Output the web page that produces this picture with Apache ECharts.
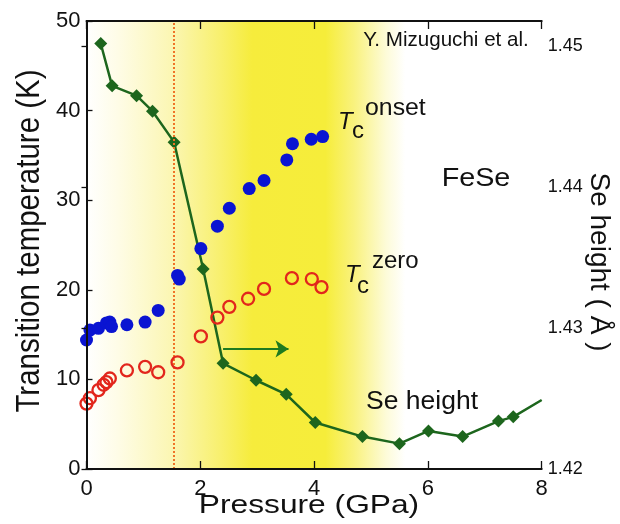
<!DOCTYPE html>
<html>
<head>
<meta charset="utf-8">
<title>FeSe under pressure</title>
<script src="https://cdn.jsdelivr.net/npm/echarts@6/dist/echarts.min.js"></script>
<style>
  html, body { margin: 0; padding: 0; background: #ffffff; }
  #chart { width: 620px; height: 524px; }
</style>
</head>
<body>
<div id="chart"></div>
<script>
// Pressure (GPa) tick labels
const pressureTicks = [0, 2, 4, 6, 8];

// Tc onset (K) vs pressure (GPa)
const onsetPressure = [0.00, 0.06, 0.21, 0.35, 0.41, 0.44, 0.71, 1.03, 1.26, 1.60, 1.63, 2.01, 2.30, 2.51, 2.86, 3.12, 3.52, 3.62, 3.95, 4.15];
const onsetTc       = [14.4, 15.5, 15.7, 16.3, 16.4, 15.9, 16.1, 16.4, 17.7, 21.6, 21.2, 24.6, 27.1, 29.1, 31.3, 32.2, 34.5, 36.3, 36.8, 37.1];

// Tc zero (K) vs pressure (GPa)
const zeroPressure = [0.00, 0.06, 0.21, 0.30, 0.35, 0.41, 0.71, 1.03, 1.26, 1.60, 2.01, 2.30, 2.51, 2.84, 3.12, 3.61, 3.96, 4.13];
const zeroTc       = [7.3, 7.9, 8.8, 9.4, 9.7, 10.1, 11.0, 11.4, 10.8, 11.9, 14.8, 16.9, 18.1, 19.0, 20.1, 21.3, 21.2, 20.3];

// Se height (Å) vs pressure (GPa); the last entry only continues the line to the frame
const sePressure = [0.25, 0.45, 0.88, 1.16, 1.54, 2.05, 2.40, 2.98, 3.51, 4.02, 4.85, 5.50, 6.01, 6.61, 7.24, 7.50, 8.00];
const seHeight   = [1.4502, 1.4472, 1.4465, 1.4454, 1.4432, 1.4342, 1.4275, 1.4263, 1.4253, 1.4233, 1.4223, 1.4218, 1.4227, 1.4223, 1.4234, 1.4237, 1.4249];
const seLineOnly = [false, false, false, false, false, false, false, false, false, false, false, false, false, false, false, false, true];

// Marked pressure where the Tc rise sets in, and the arrow pointing to the Se height axis
const markPressure = 1.54;
const arrowFrom = [2.40, 13.4];
const arrowTo   = [3.55, 13.4];

// Shaded pressure band
const bandRange = [0, 5.6];

const FONT = 'Liberation Sans';
const INK = '#111111';
const GREEN = '#1d661d';
const BLUE = '#0a14d2';
const RED = '#e2261c';

const pairs = (xs, ys) => xs.map((x, i) => [x, ys[i]]);

const chart = echarts.init(document.getElementById('chart'), null, { renderer: 'canvas' });

const axisLineStyle = { lineStyle: { color: INK, width: 2 } };
const tickStyle = (len) => ({ show: true, inside: true, length: len, lineStyle: { color: INK, width: 1.3 } });

function txt(text, x, y, size, opts) {
  opts = opts || {};
  return {
    type: 'text',
    x: x, y: y,
    rotation: opts.rotation || 0,
    scaleX: opts.scaleX || 1,
    scaleY: opts.scaleY || 1,
    z: 100,
    style: {
      text: text,
      fontSize: size,
      fontFamily: FONT,
      fontStyle: opts.italic ? 'italic' : 'normal',
      fill: INK,
      align: opts.align || 'center',
      verticalAlign: 'middle',
      textAlign: opts.align || 'center',
      textVerticalAlign: 'middle'
    }
  };
}

const option = {
  animation: false,
  backgroundColor: '#ffffff',
  grid: { left: 86.5, right: 78.3, top: 21, bottom: 55, containLabel: false },
  xAxis: [
    {
      type: 'value', min: pressureTicks[0], max: pressureTicks[pressureTicks.length - 1], interval: 2,
      z: 20,
      axisLine: axisLineStyle,
      axisTick: tickStyle(8),
      axisLabel: { fontSize: 22, fontFamily: FONT, color: INK, margin: 9 },
      splitLine: { show: false }
    },
    {
      type: 'value', position: 'top', min: 0, max: 8, interval: 2,
      z: 20,
      axisLine: axisLineStyle,
      axisTick: tickStyle(8),
      axisLabel: { show: false },
      splitLine: { show: false }
    }
  ],
  yAxis: [
    {
      type: 'value', min: 0, max: 50, interval: 10,
      z: 20,
      axisLine: { show: true, lineStyle: { color: INK, width: 2 } },
      axisTick: tickStyle(6),
      axisLabel: { fontSize: 22, fontFamily: FONT, color: INK, margin: 6 },
      splitLine: { show: false }
    },
    {
      type: 'value', min: 1.42, max: 1.4518, interval: 0.01, position: 'right',
      z: 20,
      axisLine: { show: true, lineStyle: { color: INK, width: 2 } },
      axisTick: tickStyle(5),
      axisLabel: {
        fontSize: 18, fontFamily: FONT, color: INK, margin: 6,
        showMaxLabel: false,
        formatter: v => v.toFixed(2)
      },
      splitLine: { show: false }
    }
  ],
  series: [
    {
      // shaded band and pressure marker
      type: 'line', data: [], z: 1,
      markArea: {
        silent: true,
        itemStyle: {
          color: new echarts.graphic.LinearGradient(0, 0, 1, 0, [
            { offset: 0.00, color: '#ffffff' },
            { offset: 0.10, color: '#fefce6' },
            { offset: 0.27, color: '#fbf6b2' },
            { offset: 0.42, color: '#f8f06e' },
            { offset: 0.52, color: '#f6ec3c' },
            { offset: 0.75, color: '#f6ed3a' },
            { offset: 0.84, color: '#f9f27e' },
            { offset: 0.94, color: '#fdfbd8' },
            { offset: 1.00, color: '#ffffff' }
          ])
        },
        data: [[{ xAxis: bandRange[0] }, { xAxis: bandRange[1] }]]
      },
      markLine: {
        silent: true,
        symbol: ['none', 'none'],
        label: { show: false },
        lineStyle: { color: '#f07426', type: 'dotted', width: 2 },
        data: [{ xAxis: markPressure }]
      }
    },
    {
      // arrow towards the Se height axis
      type: 'line', data: [], z: 6,
      markLine: {
        silent: true,
        symbol: ['none', 'arrow'],
        symbolSize: 13,
        label: { show: false },
        lineStyle: { color: '#1f7a1f', type: 'solid', width: 2 },
        itemStyle: { color: '#1f7a1f' },
        data: [[{ coord: arrowFrom }, { coord: arrowTo }]]
      }
    },
    {
      name: 'Se height',
      type: 'line',
      yAxisIndex: 1,
      z: 4,
      symbol: 'diamond',
      symbolSize: 13,
      lineStyle: { color: GREEN, width: 2.5 },
      itemStyle: { color: GREEN },
      data: sePressure.map((p, i) => seLineOnly[i]
        ? { value: [p, seHeight[i]], symbol: 'none' }
        : [p, seHeight[i]])
    },
    {
      name: 'Tc onset',
      type: 'scatter',
      z: 5,
      symbol: 'circle',
      symbolSize: 13,
      itemStyle: { color: BLUE, opacity: 1 },
      data: pairs(onsetPressure, onsetTc)
    },
    {
      name: 'Tc zero',
      type: 'scatter',
      z: 5,
      symbol: 'circle',
      symbolSize: 12,
      itemStyle: { color: 'rgba(255,255,255,0)', borderColor: RED, borderWidth: 2.3, opacity: 1 },
      data: pairs(zeroPressure, zeroTc)
    }
  ],
  graphic: [
    txt('Pressure (GPa)', 309, 506, 26, { scaleX: 1.22 }),
    txt('Transition temperature (K)', 30, 241, 29.5, { rotation: Math.PI / 2, scaleY: 1.1 }),
    txt('Se height ( Å )', 599, 262, 28, { rotation: -Math.PI / 2 }),
    txt('Y. Mizuguchi et al.', 446, 40.5, 21, { scaleX: 0.98 }),
    txt('FeSe', 476, 179, 25, { scaleX: 1.15 }),
    txt('Se height', 422, 402, 25, { scaleX: 1.06 }),
    txt('T', 338, 122, 24, { italic: true, align: 'left' }),
    txt('c', 352, 131.5, 24, { align: 'left' }),
    txt('onset', 365, 108.6, 23, { align: 'left', scaleX: 1.08 }),
    txt('T', 345, 275.5, 24, { italic: true, align: 'left' }),
    txt('c', 357, 286.5, 24, { align: 'left' }),
    txt('zero', 372, 261.5, 24, { align: 'left' })
  ]
};

chart.setOption(option);
</script>
</body>
</html>
